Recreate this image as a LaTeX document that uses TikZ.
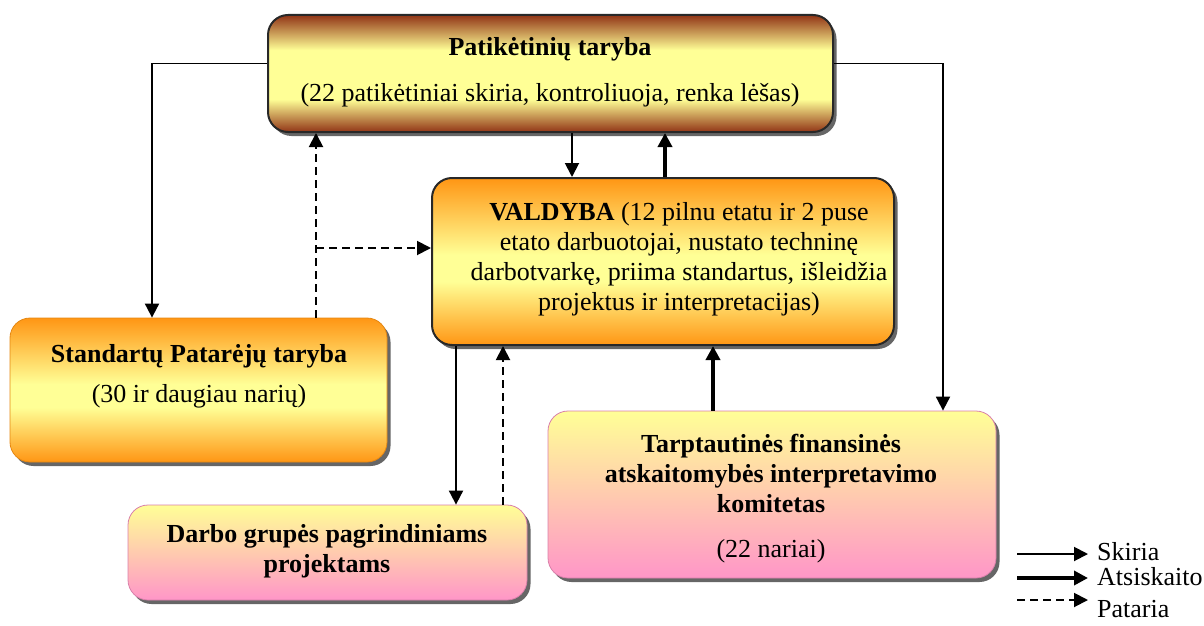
\documentclass[tikz,border=0pt]{standalone}
\usepackage{fontspec}
\setmainfont{Liberation Serif}
\usetikzlibrary{arrows.meta,shadows}

\definecolor{boxbrown}{RGB}{145,52,22}
\definecolor{boxyellow}{RGB}{255,255,150}
\definecolor{boxorange}{RGB}{255,150,20}
\definecolor{boxpink}{RGB}{255,150,200}
\definecolor{edgegray}{RGB}{40,40,40}

% vertical shadings: bands between 25bp (bottom) and 75bp (top)
\pgfdeclareverticalshading{brownband}{100bp}{color(0bp)=(boxbrown); color(25bp)=(boxbrown);
  color(39bp)=(boxyellow); color(60bp)=(boxyellow); color(75bp)=(boxbrown); color(100bp)=(boxbrown)}
\pgfdeclareverticalshading{orangeband}{100bp}{color(0bp)=(boxorange); color(25bp)=(boxorange);
  color(44bp)=(boxyellow); color(52bp)=(boxyellow); color(75bp)=(boxorange); color(100bp)=(boxorange)}

\begin{document}
\begin{tikzpicture}[x=1pt,y=-1pt,
  box/.style={rounded corners=20pt, inner sep=0pt,
    drop shadow={shadow xshift=3.5pt, shadow yshift=-4pt, fill=black, opacity=0.6}},
  trustbox/.style={box, shading=brownband, draw=edgegray, line width=2pt},
  boardbox/.style={box, shading=orangeband, draw=edgegray, line width=2pt},
  councilbox/.style={box, shading=orangeband, draw=boxorange!90!black, line width=0.8pt},
  pinkbox/.style={box, top color=boxyellow, bottom color=boxpink, draw=boxpink!85!black, line width=0.8pt},
  txt/.style={align=center, inner sep=0pt, font=\fontsize{26}{30}\selectfont},
  legtxt/.style={anchor=base west, inner sep=0pt, font=\fontsize{26}{30}\selectfont},
  tip/.style={-{Triangle[length=14pt,width=14pt]}},
  skiria/.style={line width=1.9pt, tip},
  atsk/.style={line width=4.3pt, tip},
  pat/.style={line width=1.9pt, dash pattern=on 7.5pt off 5.5pt, tip}
]
\useasboundingbox (0,0) rectangle (1204,626);

% boxes
\node[trustbox, minimum width=565pt, minimum height=117pt] (trust) at (550.5,73.5) {};
\node[boardbox, minimum width=462pt, minimum height=167pt] (board) at (663,261.5) {};
\node[councilbox, minimum width=377pt, minimum height=144pt] (council) at (198.5,390) {};
\node[pinkbox, minimum width=399pt, minimum height=95pt] (groups) at (327.5,552.5) {};
\node[pinkbox, minimum width=448pt, minimum height=167pt] (ifric) at (772,494.5) {};

% box texts
\node[txt] (trust-t) at (550,72) {\textbf{Patikėtinių taryba}\\[16pt]
  (22 patikėtiniai skiria, kontroliuoja, renka lėšas)};
\node[txt] (board-t) at (679,259.5) {\textbf{VALDYBA} (12 pilnu etatu ir 2 puse\\
  etato darbuotojai, nustato techninę\\ darbotvarkę, priima standartus, išleidžia\\
  projektus ir interpretacijas)};
\node[txt] (council-t) at (199,376) {\textbf{Standartų Patarėjų taryba}\\[10pt]
  (30 ir daugiau narių)};
\node[txt, font=\fontsize{26}{30}\selectfont\bfseries] (groups-t) at (327,551)
  {Darbo grupės pagrindiniams\\ projektams};
\node[txt] (ifric-t) at (771,498.5) {\textbf{Tarptautinės finansinės}\\
  \textbf{atskaitomybės interpretavimo}\\ \textbf{komitetas}\\[15pt] (22 nariai)};

% connectors
\draw[skiria] ([yshift=10pt]trust.west) -| ([xshift=-46.5pt]council.north);
\draw[skiria] ([yshift=10pt]trust.east) -| ([xshift=171pt]ifric.north);
\draw[skiria] ([xshift=21.5pt]trust.south) -- ([xshift=21.5pt]trust.south |- board.north);
\draw[atsk] ([xshift=2pt]board.north) -- ([xshift=2pt]board.north |- trust.south);
\draw[pat] ([xshift=117.5pt]council.north) -- ([xshift=117.5pt]council.north |- trust.south);
\coordinate (advice) at (316,248);
\draw[pat] (advice) -- (advice -| board.west);
\draw[skiria] ([xshift=-207pt]board.south) -- ([xshift=-207pt]board.south |- groups.north);
\draw[pat] ([xshift=175.5pt]groups.north) -- ([xshift=175.5pt]groups.north |- board.south);
\draw[atsk] ([xshift=-59pt]ifric.north) -- ([xshift=-59pt]ifric.north |- board.south);

% legend
\coordinate (l1a) at (1017,554); \coordinate (l1b) at (1088,554);
\coordinate (l2a) at (1017,578); \coordinate (l2b) at (1088,578);
\coordinate (l3a) at (1017,600); \coordinate (l3b) at (1088,600);
\draw[skiria] (l1a) -- (l1b);
\draw[atsk] (l2a) -- (l2b);
\draw[pat] (l3a) -- (l3b);
\node[legtxt] (leg1) at (1097,560) {Skiria};
\node[legtxt] (leg2) at (1097,585) {Atsiskaito};
\node[legtxt] (leg3) at (1097,617) {Pataria};
\end{tikzpicture}
\end{document}
